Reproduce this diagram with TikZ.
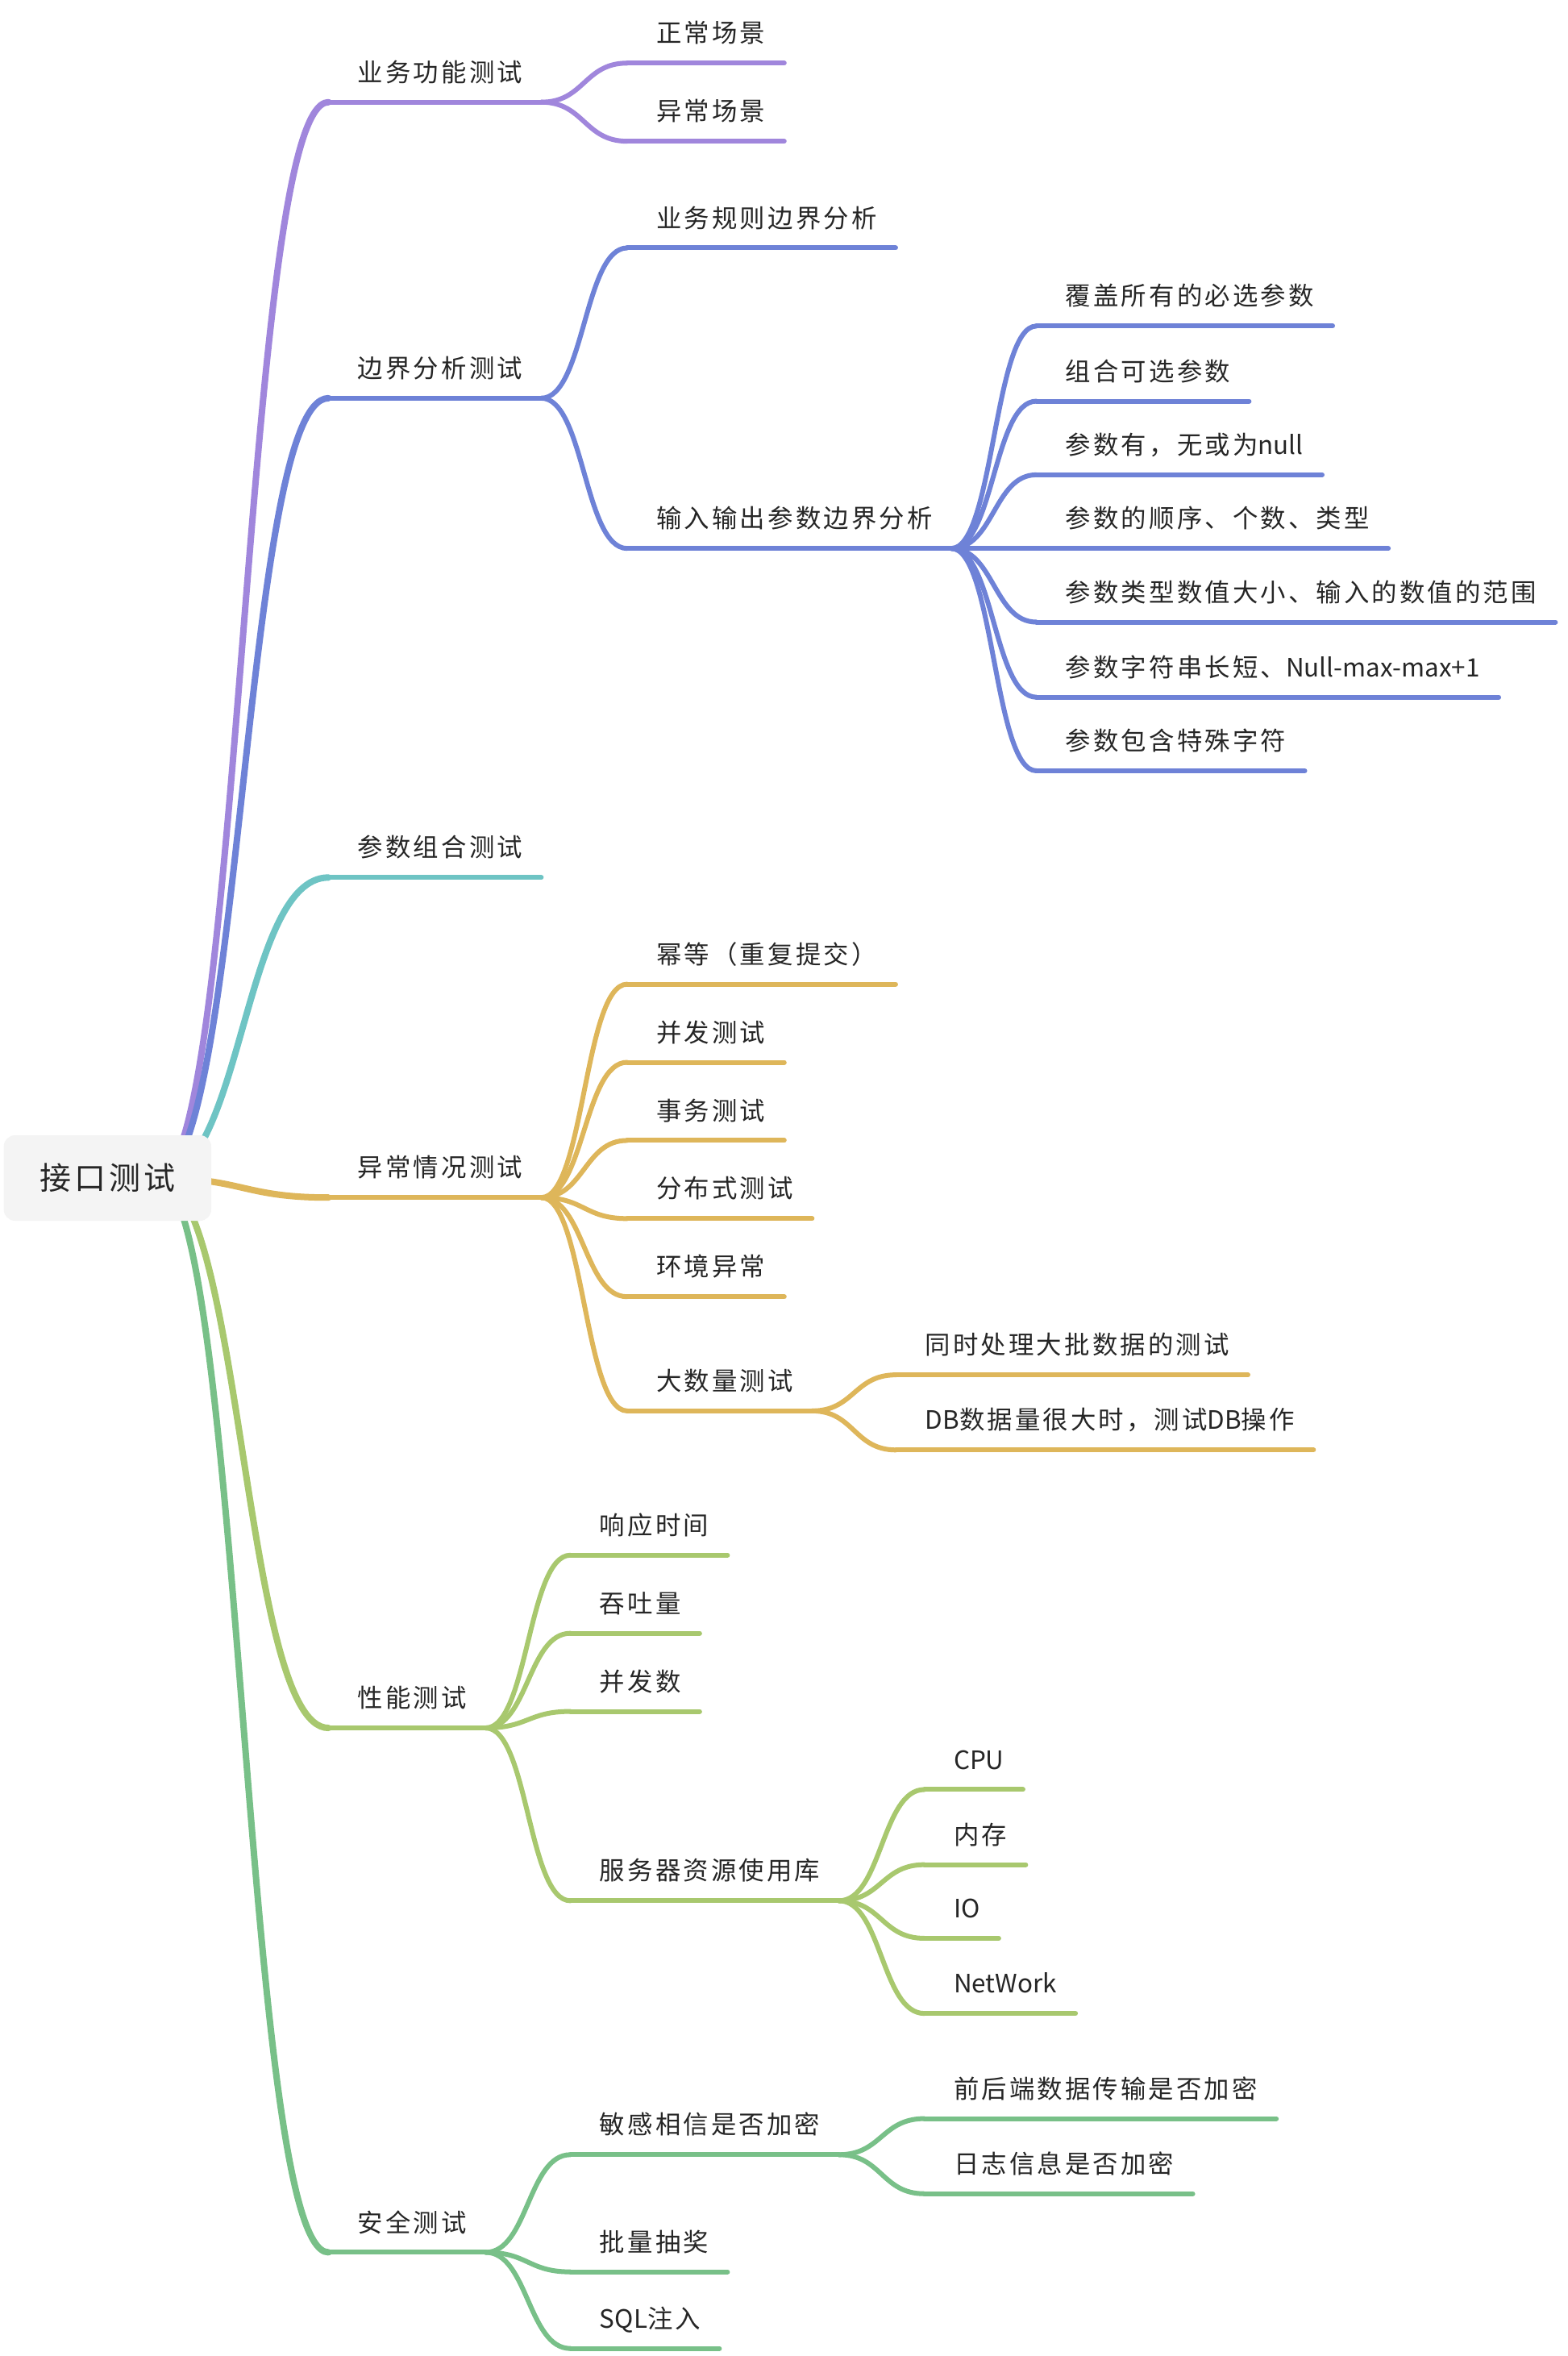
\documentclass[tikz,border=0pt]{standalone}
\usepackage{fontspec}
\usetikzlibrary{calc}
\newfontfamily\mapfont{Noto Sans CJK SC}[LetterSpace=10]
\newfontfamily\latn{Noto Sans CJK SC}
\definecolor{cPurple}{HTML}{A086DC}
\definecolor{cBlue}{HTML}{6E82D7}
\definecolor{cTeal}{HTML}{6EC4C4}
\definecolor{cGold}{HTML}{DEB65A}
\definecolor{cLime}{HTML}{A8C86E}
\definecolor{cGreen}{HTML}{78C088}
\definecolor{cRoot}{HTML}{F4F4F4}
\tikzset{
  topic/.style={anchor=south west, inner xsep=11.5pt, inner ysep=9.5pt, text height=12pt, text depth=3pt, text=black!85, font=\mapfont\fontsize{15.7}{18}\selectfont, execute at begin node={\hspace*{6.5pt}}},
  rootbox/.style={fill=cRoot, rounded corners=7pt, minimum width=128.7pt, minimum height=53pt, text=black!85, font=\mapfont\fontsize{19.5}{22}\selectfont},
  branch/.style={draw=#1, line width=3pt, line cap=round},
  curve/.style={to path={let \p1=($(\tikztostart)!0.5!(\tikztotarget)$), \p2=(\tikztostart), \p3=(\tikztotarget) in .. controls (\x1,\y2) and (\x1,\y3) .. (\tikztotarget)}},
}
\begin{document}
\begin{tikzpicture}[x=0.9262pt, y=-0.9318pt]
	\fill[white] (0,0) rectangle (1050,1568);
	\coordinate (rootc) at (105,784);

	\node[topic] (biz) at (220,68) {业务功能测试};
	\node[topic] (biz1) at (420,42) {正常场景};
	\node[topic] (biz2) at (420,94) {异常场景};

	\node[topic] (bnd) at (220,265) {边界分析测试};
	\node[topic] (bnd1) at (420,165) {业务规则边界分析};
	\node[topic] (bnd2) at (420,365) {输入输出参数边界分析};
	\node[topic] (io1) at (694,217) {覆盖所有的必选参数};
	\node[topic] (io2) at (694,267) {组合可选参数};
	\node[topic] (io3) at (694,316) {参数有，无或为{\latn null}};
	\node[topic] (io4) at (694,365) {参数的顺序、个数、类型};
	\node[topic] (io5) at (694,414) {参数类型数值大小、输入的数值的范围};
	\node[topic] (io6) at (694,464) {参数字符串长短、{\latn Null-max-max+1}};
	\node[topic] (io7) at (694,513) {参数包含特殊字符};

	\node[topic] (cmb) at (220,584) {参数组合测试};

	\node[topic] (exc) at (220,797) {异常情况测试};
	\node[topic] (exc1) at (420,655) {幂等（重复提交）};
	\node[topic] (exc2) at (420,707) {并发测试};
	\node[topic] (exc3) at (420,759) {事务测试};
	\node[topic] (exc4) at (420,811) {分布式测试};
	\node[topic] (exc5) at (420,863) {环境异常};
	\node[topic] (exc6) at (420,939) {大数量测试};
	\node[topic] (big1) at (600,915) {同时处理大批数据的测试};
	\node[topic] (big2) at (600,965) {{\latn DB}数据量很大时，测试{\latn DB}操作};

	\node[topic] (prf) at (220,1150) {性能测试};
	\node[topic] (prf1) at (382,1035) {响应时间};
	\node[topic] (prf2) at (382,1087) {吞吐量};
	\node[topic] (prf3) at (382,1139) {并发数};
	\node[topic] (prf4) at (382,1265) {服务器资源使用库};
	\node[topic] (srv1) at (619,1191) {{\latn CPU}};
	\node[topic] (srv2) at (619,1241) {内存};
	\node[topic] (srv3) at (619,1290) {{\latn IO}};
	\node[topic] (srv4) at (619,1340) {{\latn NetWork}};

	\node[topic] (sec) at (220,1499) {安全测试};
	\node[topic] (sec1) at (382,1434) {敏感相信是否加密};
	\node[topic] (enc1) at (619,1410) {前后端数据传输是否加密};
	\node[topic] (enc2) at (619,1460) {日志信息是否加密};
	\node[topic] (sec2) at (382,1512) {批量抽奖};
	\node[topic] (sec3) at (382,1563) {{\latn SQL}注入};

	% underlines
	\foreach \t in {biz,biz1,biz2} \draw[branch=cPurple] (\t.south west) -- (\t.south east);
	\foreach \t in {bnd,bnd1,bnd2,io1,io2,io3,io4,io5,io6,io7} \draw[branch=cBlue] (\t.south west) -- (\t.south east);
	\draw[branch=cTeal] (cmb.south west) -- (cmb.south east);
	\foreach \t in {exc,exc1,exc2,exc3,exc4,exc5,exc6,big1,big2} \draw[branch=cGold] (\t.south west) -- (\t.south east);
	\foreach \t in {prf,prf1,prf2,prf3,prf4,srv1,srv2,srv3,srv4} \draw[branch=cLime] (\t.south west) -- (\t.south east);
	\foreach \t in {sec,sec1,sec2,sec3,enc1,enc2} \draw[branch=cGreen] (\t.south west) -- (\t.south east);

	% connectors
	\foreach \t in {biz1,biz2} \draw[branch=cPurple] (biz.south east) to[curve] (\t.south west);
	\foreach \t in {bnd1,bnd2} \draw[branch=cBlue] (bnd.south east) to[curve] (\t.south west);
	\foreach \t in {io1,io2,io3,io4,io5,io6,io7} \draw[branch=cBlue] (bnd2.south east) to[curve] (\t.south west);
	\foreach \t in {exc1,exc2,exc3,exc4,exc5,exc6} \draw[branch=cGold] (exc.south east) to[curve] (\t.south west);
	\foreach \t in {big1,big2} \draw[branch=cGold] (exc6.south east) to[curve] (\t.south west);
	\foreach \t in {prf1,prf2,prf3,prf4} \draw[branch=cLime] (prf.south east) to[curve] (\t.south west);
	\foreach \t in {srv1,srv2,srv3,srv4} \draw[branch=cLime] (prf4.south east) to[curve] (\t.south west);
	\foreach \t in {sec1,sec2,sec3} \draw[branch=cGreen] (sec.south east) to[curve] (\t.south west);
	\foreach \t in {enc1,enc2} \draw[branch=cGreen] (sec1.south east) to[curve] (\t.south west);

	\draw[branch=cPurple, line width=4pt] (rootc) to[curve] (biz.south west);
	\draw[branch=cBlue, line width=4pt] (rootc) to[curve] (bnd.south west);
	\draw[branch=cTeal, line width=4pt] (rootc) to[curve] (cmb.south west);
	\draw[branch=cGold, line width=4pt] (rootc) to[curve] (exc.south west);
	\draw[branch=cLime, line width=4pt] (rootc) to[curve] (prf.south west);
	\draw[branch=cGreen, line width=4pt] (rootc) to[curve] (sec.south west);

	\node[rootbox] (root) at (72,784) {接口测试};
\end{tikzpicture}
\end{document}
